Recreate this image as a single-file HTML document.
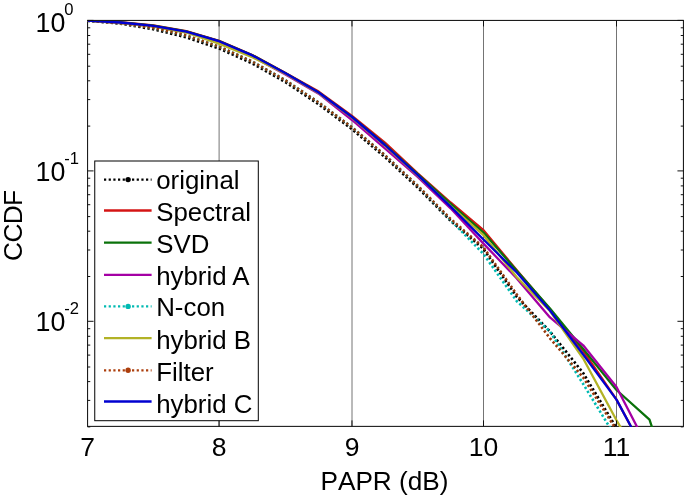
<!DOCTYPE html>
<html><head><meta charset="utf-8"><title>CCDF</title>
<style>html,body{margin:0;padding:0;background:#fff}svg{display:block}text{font-family:"Liberation Sans",sans-serif;fill:#000}</style></head>
<body>
<svg width="685" height="496" viewBox="0 0 685 496">
<rect width="685" height="496" fill="#fff"/>
<defs><clipPath id="c"><rect x="87.55" y="20.9" width="595.9" height="406.15"/></clipPath></defs>
<line x1="219.1" y1="20.45" x2="219.1" y2="426.4" stroke="#505050" stroke-width="0.8"/>
<line x1="352.0" y1="20.45" x2="352.0" y2="426.4" stroke="#505050" stroke-width="0.8"/>
<line x1="483.5" y1="20.45" x2="483.5" y2="426.4" stroke="#505050" stroke-width="0.8"/>
<line x1="616.5" y1="20.45" x2="616.5" y2="426.4" stroke="#505050" stroke-width="0.8"/>
<rect x="87.55" y="20.45" width="595.9" height="405.95" fill="none" stroke="#1c1c1c" stroke-width="1.1"/>
<g clip-path="url(#c)" fill="none" stroke-width="2.3" stroke-linejoin="round">
<polyline points="87.5,20.8 120.4,23.6 153.3,29.3 186.2,37.3 219.1,48.5 252.3,63.5 285.5,82.2 318.7,104.4 352.0,129.2 384.9,157.1 417.7,187.6 450.6,220.8 483.5,249.0 516.8,296.8 550.0,331.5 583.2,373.0 616.5,428.0 649.5,500.0" stroke="#000000" stroke-width="2.6" stroke-dasharray="2.3 2.35"/>
<polyline points="87.5,20.6 120.4,22.1 153.3,25.4 186.2,31.2 219.1,40.9 252.3,55.0 285.5,73.0 318.7,91.6 352.0,116.0 384.9,142.6 417.7,173.4 450.6,202.5 483.5,230.2 516.8,270.3 550.0,309.3 583.2,351.0 616.5,399.6 649.5,461.0" stroke="#d41414"/>
<polyline points="87.5,20.6 120.4,22.3 153.3,25.6 186.2,31.4 219.1,41.0 252.3,55.2 285.5,73.2 318.7,92.5 352.0,117.0 384.9,144.5 417.7,174.0 450.6,203.8 483.5,232.6 516.8,270.8 550.0,308.4 583.2,349.0 616.5,390.0 649.5,419.6 682.6,520.0" stroke="#0a720a"/>
<polyline points="87.5,20.6 120.4,23.0 153.3,26.3 186.2,32.1 219.1,41.7 252.3,56.6 285.5,74.4 318.7,93.7 352.0,120.0 384.9,148.3 417.7,176.8 450.6,208.3 483.5,243.6 516.8,278.4 550.0,317.4 583.2,345.3 616.5,387.0 649.5,451.0" stroke="#a400a4"/>
<polyline points="87.5,20.7 120.4,23.2 153.3,27.9 186.2,35.4 219.1,46.6 252.3,61.6 285.5,80.3 318.7,102.5 352.0,127.3 384.9,155.2 417.7,185.8 450.6,220.0 483.5,254.0 516.8,301.2 550.0,331.5 583.2,384.0 616.5,438.4 649.5,500.0" stroke="#00bab2" stroke-width="2.6" stroke-dasharray="2.3 2.35"/>
<polyline points="87.5,20.6 120.4,23.1 153.3,26.6 186.2,32.5 219.1,43.6 252.3,57.2 285.5,73.8 318.7,93.0 352.0,117.6 384.9,145.6 417.7,175.3 450.6,206.0 483.5,235.2 516.8,277.3 550.0,311.0 583.2,358.5 616.5,420.3 649.5,476.0" stroke="#b2b226"/>
<polyline points="87.5,20.7 120.4,23.2 153.3,27.9 186.2,35.4 219.1,46.6 252.3,61.6 285.5,80.3 318.7,102.5 352.0,127.3 384.9,155.2 417.7,185.7 450.6,218.9 483.5,247.4 516.8,294.5 550.0,338.3 583.2,377.5 616.5,430.0 649.5,500.0" stroke="#96380a" stroke-width="2.6" stroke-dasharray="2.3 2.35"/>
<polyline points="87.5,20.6 120.4,22.5 153.3,25.8 186.2,31.6 219.1,41.2 252.3,55.4 285.5,73.2 318.7,92.5 352.0,117.0 384.9,145.0 417.7,174.8 450.6,206.7 483.5,239.5 516.8,272.5 550.0,310.5 583.2,354.5 616.5,399.6 649.5,461.0" stroke="#0000d0"/>
</g>
<path d="M87.55 20.4h6M683.45 20.4h-6M87.55 126.1h2.7M683.45 126.1h-2.7M87.55 99.6h2.7M683.45 99.6h-2.7M87.55 80.8h2.7M683.45 80.8h-2.7M87.55 66.2h2.7M683.45 66.2h-2.7M87.55 54.3h2.7M683.45 54.3h-2.7M87.55 44.2h2.7M683.45 44.2h-2.7M87.55 35.5h2.7M683.45 35.5h-2.7M87.55 27.8h2.7M683.45 27.8h-2.7M87.55 170.9h6M683.45 170.9h-6M87.55 276.5h2.7M683.45 276.5h-2.7M87.55 250.0h2.7M683.45 250.0h-2.7M87.55 231.2h2.7M683.45 231.2h-2.7M87.55 216.6h2.7M683.45 216.6h-2.7M87.55 204.7h2.7M683.45 204.7h-2.7M87.55 194.7h2.7M683.45 194.7h-2.7M87.55 185.9h2.7M683.45 185.9h-2.7M87.55 178.2h2.7M683.45 178.2h-2.7M87.55 321.3h6M683.45 321.3h-6M87.55 426.9h2.7M683.45 426.9h-2.7M87.55 400.4h2.7M683.45 400.4h-2.7M87.55 381.6h2.7M683.45 381.6h-2.7M87.55 367.0h2.7M683.45 367.0h-2.7M87.55 355.1h2.7M683.45 355.1h-2.7M87.55 345.1h2.7M683.45 345.1h-2.7M87.55 336.3h2.7M683.45 336.3h-2.7M87.55 328.7h2.7M683.45 328.7h-2.7M219.06 426.4v-6M219.06 20.45v6M351.97 426.4v-6M351.97 20.45v6M483.50 426.4v-6M483.50 20.45v6M616.50 426.4v-6M616.50 20.45v6" stroke="#111" stroke-width="1" fill="none"/>
<rect x="94.75" y="161" width="163.55" height="259.7" fill="#fff" stroke="#000" stroke-width="1"/>
<line x1="104" y1="179.6" x2="151.6" y2="179.6" stroke="#000000" stroke-width="2.3" stroke-dasharray="2.2 2.47"/>
<circle cx="128.1" cy="179.6" r="2.7" fill="#000000"/>
<text x="156.2" y="188.6" font-size="25.85">original</text>
<line x1="104" y1="210.5" x2="151.6" y2="210.5" stroke="#d41414" stroke-width="2.3"/>
<text x="156.2" y="221.0" font-size="25.85">Spectral</text>
<line x1="104" y1="242.7" x2="151.6" y2="242.7" stroke="#0a720a" stroke-width="2.3"/>
<text x="156.2" y="253.2" font-size="25.85">SVD</text>
<line x1="104" y1="274.8" x2="151.6" y2="274.8" stroke="#a400a4" stroke-width="2.3"/>
<text x="156.2" y="285.2" font-size="25.85">hybrid A</text>
<line x1="104" y1="306.4" x2="151.6" y2="306.4" stroke="#00bab2" stroke-width="2.3" stroke-dasharray="2.2 2.47"/>
<circle cx="128.1" cy="306.4" r="2.7" fill="#00bab2"/>
<text x="156.2" y="316.3" font-size="25.85">N-con</text>
<line x1="104" y1="338.1" x2="151.6" y2="338.1" stroke="#b2b226" stroke-width="2.3"/>
<text x="156.2" y="348.7" font-size="25.85">hybrid B</text>
<line x1="104" y1="370.3" x2="151.6" y2="370.3" stroke="#ac3e0c" stroke-width="2.3" stroke-dasharray="2.2 2.47"/>
<circle cx="128.1" cy="370.3" r="2.7" fill="#ac3e0c"/>
<text x="156.2" y="380.8" font-size="25.85">Filter</text>
<line x1="104" y1="401.5" x2="151.6" y2="401.5" stroke="#0000d0" stroke-width="2.3"/>
<text x="156.2" y="413.0" font-size="25.85">hybrid C</text>
<text x="87.5" y="456.1" font-size="26.5" text-anchor="middle">7</text>
<text x="219.1" y="456.1" font-size="26.5" text-anchor="middle">8</text>
<text x="352.0" y="456.1" font-size="26.5" text-anchor="middle">9</text>
<text x="483.5" y="456.1" font-size="26.5" text-anchor="middle">10</text>
<text x="616.5" y="456.1" font-size="26.5" text-anchor="middle">11</text>
<text x="35.6" y="32.1" font-size="26.8">10</text>
<text x="64.2" y="14.9" font-size="16.6">0</text>
<text x="35.6" y="181.1" font-size="26.8">10</text>
<text x="64.2" y="163.8" font-size="16.6">-1</text>
<text x="35.6" y="330.7" font-size="26.8">10</text>
<text x="64.2" y="313.8" font-size="16.6">-2</text>
<text x="384.5" y="489.8" font-size="26.2" text-anchor="middle" style="font-kerning:none">PAPR (dB)</text>
<text transform="translate(21.8 225.7) rotate(-90)" font-size="26.2" text-anchor="middle" letter-spacing="-0.55">CCDF</text>
</svg></body></html>
